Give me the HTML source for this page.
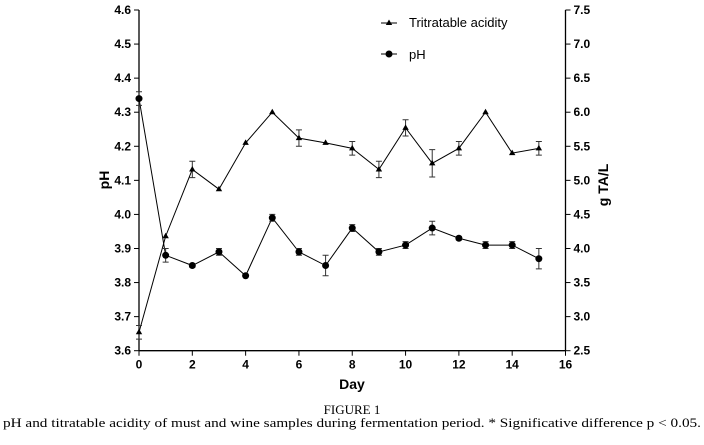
<!DOCTYPE html>
<html><head><meta charset="utf-8"><style>
body{margin:0;background:#fff;width:704px;height:445px;overflow:hidden}
svg{display:block}
text{font-family:"Liberation Sans",Arial,sans-serif}
.tk{font-size:12px;font-weight:bold;fill:#000}
</style></head><body>
<svg id="chart" width="704" height="445">
<g id="axes"></g><g id="marks"></g>
<text x="352" y="414" text-anchor="middle" style="font-family:'Liberation Serif',serif;font-size:13px">FIGURE 1</text>
<text x="3" y="427" textLength="698" lengthAdjust="spacingAndGlyphs" style="font-family:'Liberation Serif',serif;font-size:13px">pH and titratable acidity of must and wine samples during fermentation period. * Significative difference p &lt; 0.05.</text>
</svg>
<script>
const days=[0,1,2,3,4,5,6,7,8,9,10,11,12,13,14,15];
const phVals=[4.34,3.88,3.85,3.89,3.82,3.99,3.89,3.85,3.96,3.89,3.91,3.96,3.93,3.91,3.91,3.87];
const phErr=[0.02,0.02,0.005,0.01,0,0.01,0.01,0.03,0.01,0.01,0.01,0.02,0.005,0.01,0.01,0.03];
const taVals=[2.77,4.18,5.16,4.87,5.55,6.0,5.62,5.55,5.47,5.16,5.77,5.25,5.47,6.0,5.40,5.47];
const taErr=[0.1,0,0.12,0,0,0,0.12,0,0.1,0.12,0.12,0.2,0.1,0,0,0.1];
const xTicks=[0,2,4,6,8,10,12,14,16];
const phTicks=[3.6,3.7,3.8,3.9,4.0,4.1,4.2,4.3,4.4,4.5,4.6];
const taTicks=[2.5,3.0,3.5,4.0,4.5,5.0,5.5,6.0,6.5,7.0,7.5];
const L=139,R=565.5,T=10,B=350.7;
const x=d=>L+(d/16)*(R-L);
const yP=v=>T+(4.6-v)/1.0*(B-T);
const yT=v=>T+(7.5-v)/5.0*(B-T);
const NS='http://www.w3.org/2000/svg';
function mk(p,tag,a){const e=document.createElementNS(NS,tag);for(const k in a)e.setAttribute(k,a[k]);p.appendChild(e);return e;}
const ax=document.getElementById('axes'),mg=document.getElementById('marks');
let e;
e=mk(ax,'line',{x1:L,y1:T,x2:L,y2:B,stroke:'#000','stroke-width':1.3});


e=mk(ax,'line',{x1:R,y1:T,x2:R,y2:B,stroke:'#000','stroke-width':1.3});


e=mk(ax,'line',{x1:L,y1:B,x2:R,y2:B,stroke:'#000','stroke-width':1.3});


xTicks.forEach(t=>{mk(ax,'line',{x1:x(t),y1:B,x2:x(t),y2:B+5,stroke:'#000'});
 e=mk(ax,'text',{x:x(t),y:B+18,'text-anchor':'middle',class:'tk'});e.textContent=t;
 
 });
phTicks.forEach(t=>{mk(ax,'line',{x1:L-5,y1:yP(t),x2:L,y2:yP(t),stroke:'#000'});
 e=mk(ax,'text',{x:L-8,y:yP(t)+4,'text-anchor':'end',class:'tk'});e.textContent=t.toFixed(1);
 
 });
taTicks.forEach(t=>{mk(ax,'line',{x1:R,y1:yT(t),x2:R+5,y2:yT(t),stroke:'#000'});
 e=mk(ax,'text',{x:R+8,y:yT(t)+4,'text-anchor':'start',class:'tk'});e.textContent=t.toFixed(1);
 
 });
e=mk(ax,'text',{x:352,y:389,'text-anchor':'middle',class:'tk',style:'font-size:14px'});e.textContent='Day';


e=mk(ax,'text',{x:0,y:0,'text-anchor':'middle',class:'tk',style:'font-size:14px',transform:'translate(109,180) rotate(-90)'});e.textContent='pH';


e=mk(ax,'text',{x:0,y:0,'text-anchor':'middle',class:'tk',style:'font-size:14px',transform:'translate(608,185) rotate(-90)'});e.textContent='g TA/L';


function series(vals,errs,yf,name,marker){
 const pts=vals.map((v,i)=>x(days[i])+','+yf(v)).join(' ');
 e=mk(mg,'polyline',{points:pts,fill:'none',stroke:'#000','stroke-width':1});
 
 
 vals.forEach((v,i)=>{const cx=x(days[i]),cy=yf(v);
  if(errs[i]>0){const y1=yf(v+errs[i]),y2=yf(v-errs[i]);
   e=mk(mg,'path',{d:`M${cx},${y1}V${y2}M${cx-3},${y1}H${cx+3}M${cx-3},${y2}H${cx+3}`,stroke:'#333','stroke-width':1,fill:'none'});
   
   }
  if(marker==='c')e=mk(mg,'circle',{cx:cx,cy:cy,r:3.5,fill:'#000'});
  else e=mk(mg,'path',{d:`M${cx},${cy-3.5}L${cx+3.2},${cy+2}L${cx-3.2},${cy+2}Z`,fill:'#000'});
  
  });
}
series(taVals,taErr,yT,'ta','t');
series(phVals,phErr,yP,'ph','c');
e=mk(mg,'line',{x1:381,y1:23,x2:397,y2:23,stroke:'#000'});


mk(mg,'path',{d:'M389,19.5L392.2,25L385.8,25Z',fill:'#000'});
e=mk(mg,'text',{x:409,y:27,style:'font-size:13px'});e.textContent='Tritratable acidity';


e=mk(mg,'line',{x1:381,y1:54,x2:397,y2:54,stroke:'#000'});


mk(mg,'circle',{cx:389,cy:54,r:3.5,fill:'#000'});
e=mk(mg,'text',{x:409,y:59,style:'font-size:13px'});e.textContent='pH';


</script>
</body></html>
